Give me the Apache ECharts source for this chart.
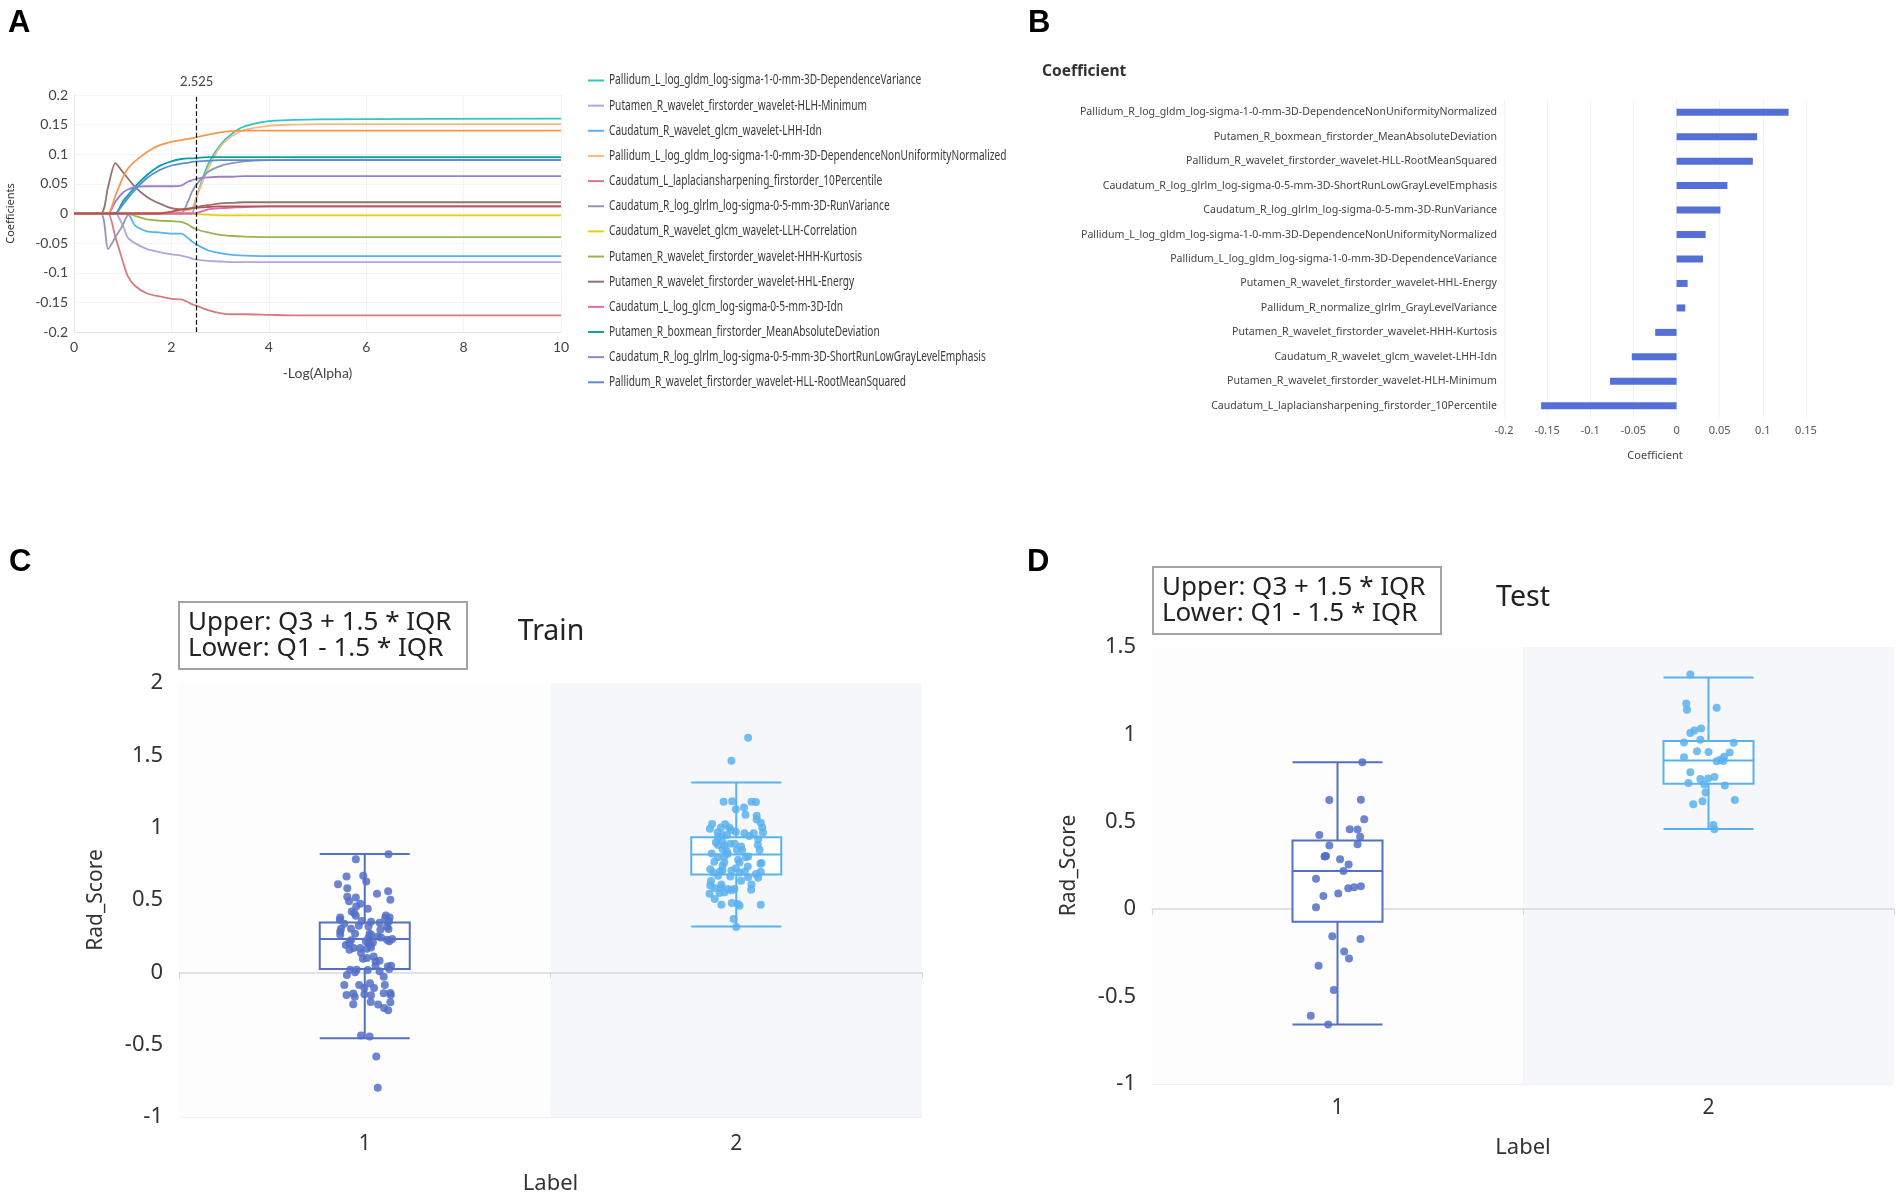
<!DOCTYPE html>
<html><head><meta charset="utf-8">
<style>html,body{margin:0;padding:0;background:#fff}#c{width:1902px;height:1196px}</style>
<script src="https://cdn.jsdelivr.net/npm/echarts@6/dist/echarts.min.js"></script>
</head><body><div id="c"></div>
<script>
// Panel A: coefficient paths
const alphas=[0,0.55,0.7,0.85,1,1.1,1.25,1.5,1.75,2,2.2,2.35,2.42,2.525,2.75,3,3.25,3.5,4,4.5,5,10];
const pathDepVar=[0,0,0,0,0,0,0,0,0,0,0,0,0,.03,.082,.115,.135,.147,.156,.158,.159,.16];
const pathHlhMin=[0,0,0,0,-.02,-.04,-.05,-.06,-.065,-.069,-.071,-.074,-.076,-.078,-.08,-.081,-.082,-.082,-.082,-.082,-.082,-.082];
const pathLhhIdn=[0,0,0,0,0,0,-.02,-.03,-.032,-.034,-.034,-.042,-.047,-.053,-.062,-.067,-.07,-.071,-.072,-.072,-.072,-.072];
const pathDnunL=[0,0,0,0,0,0,0,0,.001,.003,.005,.006,.007,.03,.075,.112,.131,.141,.148,.15,.151,.151];
const pathP10=[0,0,0,-.04,-.08,-.105,-.122,-.135,-.14,-.144,-.145,-.15,-.153,-.156,-.163,-.168,-.17,-.17,-.171,-.172,-.172,-.172];
const pathRunVar=[0,0,-.06,-.04,-.02,-.003,0,0,0,0,0,.022,.036,.05,.07,.08,.085,.088,.09,.091,.091,.091];
const pathCorr=[0,0,0,0,0,0,0,0,0,0,0,0,0,-.001,-.002,-.003,-.003,-.003,-.003,-.003,-.003,-.003];
const pathKurt=[0,0,0,0,0,0,-.004,-.01,-.012,-.013,-.014,-.019,-.023,-.027,-.032,-.036,-.038,-.039,-.04,-.04,-.04,-.04];
const pathEnergy=[0,0,.045,.085,.07,.06,.045,.028,.017,.009,.007,.008,.009,.011,.014,.017,.018,.019,.019,.019,.019,.019];
const pathGlcmIdn=[0,0,0,0,0,0,0,0,0,0,0,0,0,.001,.007,.009,.01,.011,.012,.012,.012,.012];
const pathMad=[0,0,0,0,.02,.03,.045,.065,.08,.088,.092,.093,.093,.094,.095,.095,.095,.095,.095,.095,.095,.095];
const pathShort=[0,0,0,.02,.035,.04,.045,.046,.046,.046,.047,.054,.056,.059,.061,.062,.062,.063,.063,.063,.063,.063];
const pathRms=[0,0,0,0,.015,.025,.04,.06,.073,.081,.084,.086,.087,.088,.089,.09,.09,.09,.09,.09,.09,.09];
const pathDnunR=[0,0,0,.03,.06,.075,.088,.104,.115,.121,.124,.126,.127,.129,.133,.137,.139,.14,.14,.14,.14,.14];
const pathGlv=[0,0,0,0,0,0,0,0,0,.003,.007,.008,.009,.01,.011,.012,.012,.012,.012,.012,.012,.012];
const pathNames=['Pallidum_L_log_gldm_log-sigma-1-0-mm-3D-DependenceVariance','Putamen_R_wavelet_firstorder_wavelet-HLH-Minimum','Caudatum_R_wavelet_glcm_wavelet-LHH-Idn','Pallidum_L_log_gldm_log-sigma-1-0-mm-3D-DependenceNonUniformityNormalized','Caudatum_L_laplaciansharpening_firstorder_10Percentile','Caudatum_R_log_glrlm_log-sigma-0-5-mm-3D-RunVariance','Caudatum_R_wavelet_glcm_wavelet-LLH-Correlation','Putamen_R_wavelet_firstorder_wavelet-HHH-Kurtosis','Putamen_R_wavelet_firstorder_wavelet-HHL-Energy','Caudatum_L_log_glcm_log-sigma-0-5-mm-3D-Idn','Putamen_R_boxmean_firstorder_MeanAbsoluteDeviation','Caudatum_R_log_glrlm_log-sigma-0-5-mm-3D-ShortRunLowGrayLevelEmphasis','Pallidum_R_wavelet_firstorder_wavelet-HLL-RootMeanSquared','Pallidum_R_log_gldm_log-sigma-1-0-mm-3D-DependenceNonUniformityNormalized','Pallidum_R_normalize_glrlm_GrayLevelVariance'];
const pathValues=[pathDepVar,pathHlhMin,pathLhhIdn,pathDnunL,pathP10,pathRunVar,pathCorr,pathKurt,pathEnergy,pathGlcmIdn,pathMad,pathShort,pathRms,pathDnunR,pathGlv];
const pathColors=['#2ec7c9','#b6a2de','#5ab1ef','#ffb980','#d87a80','#8d98b3','#e5cf0d','#97b552','#95706d','#dc69aa','#07a2a4','#9a7fd1','#588dd5','#f5994e','#c05050'];
const legendCount=13, chosenAlpha=2.525;

// Panel B: selected coefficients
const coefNames=['Pallidum_R_log_gldm_log-sigma-1-0-mm-3D-DependenceNonUniformityNormalized','Putamen_R_boxmean_firstorder_MeanAbsoluteDeviation','Pallidum_R_wavelet_firstorder_wavelet-HLL-RootMeanSquared','Caudatum_R_log_glrlm_log-sigma-0-5-mm-3D-ShortRunLowGrayLevelEmphasis','Caudatum_R_log_glrlm_log-sigma-0-5-mm-3D-RunVariance','Pallidum_L_log_gldm_log-sigma-1-0-mm-3D-DependenceNonUniformityNormalized','Pallidum_L_log_gldm_log-sigma-1-0-mm-3D-DependenceVariance','Putamen_R_wavelet_firstorder_wavelet-HHL-Energy','Pallidum_R_normalize_glrlm_GrayLevelVariance','Putamen_R_wavelet_firstorder_wavelet-HHH-Kurtosis','Caudatum_R_wavelet_glcm_wavelet-LHH-Idn','Putamen_R_wavelet_firstorder_wavelet-HLH-Minimum','Caudatum_L_laplaciansharpening_firstorder_10Percentile'];
const coefValues=[.1298,.0934,.0884,.0589,.0508,.0337,.0306,.0128,.0101,-.0248,-.0519,-.0771,-.157];

// Panels C, D: [min, Q1, median, Q3, max]
const labels=['1','2'];
const trainBox=[[-.455,.023,.23,.345,.818],[.3165,.677,.814,.933,1.312]];
const testBox=[[-.66,-.0725,.219,.393,.84],[.459,.718,.851,.962,1.326]];
const trainPts1=[[1.064,.816],[.976,.782],[.951,.662],[.996,.667],[1.004,.628],[.928,.609],[.953,.582],[1.033,.543],[1.063,.561],[1.069,.501],[.953,.522],[.958,.492],[.976,.517],[.988,.474],[.977,.455],[1.008,.439],[.965,.421],[.972,.409],[.976,.391],[.934,.379],[.933,.363],[1.057,.393],[1.067,.379],[1.055,.375],[.945,.336],[.936,.301],[.934,.26],[.934,.283],[.963,.301],[.974,.267],[.984,.322],[.992,.354],[1.01,.317],[1.017,.349],[1.04,.343],[1.065,.352],[1.06,.317],[1.042,.294],[1.064,.299],[1.013,.267],[1.017,.26],[1.01,.237],[1.035,.248],[1.044,.241],[1.06,.225],[1.066,.214],[1.074,.23],[1.003,.214],[1.01,.202],[1.015,.191],[1.022,.207],[.963,.221],[.958,.202],[.949,.189],[.959,.156],[.97,.168],[.988,.168],[.99,.133],[1.006,.163],[1.017,.172],[.995,.094],[1.006,.099],[1.024,.11],[1.029,.076],[1.04,.08],[1.029,.046],[1.062,.041],[1.071,.046],[1.066,.023],[.961,.018],[.978,.018],[.974,0],[.952,-.018],[1.008,.016],[1.04,.007],[1.051,-.03],[.945,-.087],[.985,-.087],[.999,-.108],[1.014,-.076],[1.025,-.108],[1.054,-.087],[.951,-.156],[.969,-.147],[.973,-.168],[.999,-.152],[1.017,-.159],[1.051,-.145],[1.069,-.143],[1.07,-.156],[1.016,-.205],[1.069,-.207],[.969,-.221],[1.036,-.223],[1.052,-.246],[1.063,-.262],[.99,-.437],[1.013,-.444],[1.031,-.582],[1.035,-.798]];
const trainPts2=[[2.032,1.622],[1.987,1.463],[1.966,1.179],[1.989,1.183],[2.041,1.179],[2.053,1.177],[1.999,1.128],[2.021,1.14],[2.025,1.089],[2.055,1.083],[2.055,1.057],[2.066,1.034],[1.935,1.025],[1.929,.993],[1.97,1.023],[2.07,1.002],[2.072,.966],[1.959,1.002],[1.95,.968],[1.981,1.002],[1.986,.984],[1.999,.972],[2.022,.961],[2.047,.961],[2.035,.943],[2.059,.92],[1.951,.933],[1.963,.95],[1.975,.95],[1.945,.897],[1.951,.881],[1.963,.904],[1.969,.874],[1.984,.888],[1.996,.888],[2.013,.869],[2.058,.881],[2.063,.846],[1.963,.851],[1.975,.835],[2.002,.846],[2.016,.842],[1.934,.821],[1.951,.796],[1.977,.819],[2.032,.8],[2.026,.796],[1.968,.8],[2.005,.778],[2.009,.759],[1.941,.764],[1.968,.759],[1.963,.736],[2.031,.732],[2.065,.75],[2.068,.755],[1.93,.713],[1.939,.69],[1.957,.697],[1.951,.667],[1.963,.704],[1.987,.704],[1.999,.72],[2.009,.69],[1.984,.663],[2.023,.695],[2.032,.658],[2.053,.679],[2.059,.654],[2.066,.695],[2.013,.633],[1.932,.631],[1.93,.601],[1.96,.608],[2.041,.608],[2.04,.571],[1.942,.583],[1.959,.583],[1.955,.548],[1.969,.553],[1.978,.576],[1.987,.567],[1.995,.576],[1.928,.544],[1.942,.507],[1.96,.468],[1.988,.479],[2.004,.472],[2.009,.461],[2.066,.468],[1.993,.369],[2,.314]];
const testPts1=[[1.067,.84],[.978,.624],[1.063,.626],[1.072,.515],[1.033,.458],[1.054,.456],[.951,.424],[1.061,.414],[1.054,.372],[.978,.365],[.969,.305],[.967,.303],[.965,.302],[1.007,.286],[1.03,.256],[1.016,.219],[.942,.174],[1.063,.132],[1.045,.126],[1.029,.12],[1.002,.09],[.962,.076],[.942,.011],[.986,-.155],[1.062,-.17],[1.018,-.242],[1.031,-.282],[.949,-.323],[.99,-.462],[.928,-.609],[.975,-.66]];
const testPts2=[[1.951,1.343],[1.94,1.177],[1.942,1.141],[2.022,1.152],[1.98,1.034],[1.962,1.023],[1.951,1.008],[1.934,.954],[1.978,.97],[2.068,.952],[1.969,.903],[2,.899],[2.057,.897],[1.934,.869],[2.042,.872],[2.04,.848],[2.022,.846],[2.032,.855],[1.951,.783],[2.016,.756],[1.999,.747],[1.978,.745],[1.946,.722],[1.989,.714],[2.044,.707],[1.992,.667],[2.071,.625],[1.984,.617],[1.959,.6],[2.013,.482],[2.016,.457]];
const quartileNote='Upper: Q3 + 1.5 * IQR\nLower: Q1 - 1.5 * IQR';

const LATO='Lato,sans-serif', UI='"Noto Sans",sans-serif';
const grid1='#f3f3f5', blue='#5470c6', sky='#5ab1ef';
const noteStyle={fontFamily:UI,fontWeight:'normal',fontSize:26,lineHeight:25.5,color:'#222'};
const legendItems=pathNames.slice(0,legendCount).flatMap((n,i)=>[
  {type:'line',silent:true,shape:{x1:588,y1:80.5+i*25.15,x2:604,y2:80.5+i*25.15},style:{stroke:pathColors[i],lineWidth:2}},
  {type:'text',silent:true,x:609,y:80.5+i*25.15,scaleX:.723,style:{text:n,fontFamily:UI,fontSize:14,fill:'#3a3a3a',verticalAlign:'middle'}}
]);

const option={animation:false,backgroundColor:'#fff',textStyle:{fontFamily:UI},
 graphic:legendItems,
 title:[
  ...[['A',8,8],['B',1028,8],['C',9,547],['D',1027,547]].map(([t,l,y])=>({text:t,left:l,top:y,textStyle:{fontFamily:'"Liberation Sans",sans-serif',fontWeight:'bold',fontSize:31,color:'#000'},padding:0})),
  {text:'Coefficient',left:1042,top:64,padding:0,textStyle:{fontFamily:UI,fontWeight:'bold',fontSize:15.5,color:'#333'}},
  {text:'Train',left:551,top:632,textAlign:'center',textVerticalAlign:'middle',padding:0,textStyle:{fontFamily:UI,fontWeight:'normal',fontSize:28.5,color:'#222'}},
  {text:'Test',left:1529,top:598,textAlign:'center',textVerticalAlign:'middle',padding:0,textStyle:{fontFamily:UI,fontWeight:'normal',fontSize:28.5,color:'#222'}},
  {text:quartileNote,left:179,top:602,padding:[8,16,8,9],borderColor:'#a3a3a3',borderWidth:2,backgroundColor:'#fff',textStyle:noteStyle},
  {text:quartileNote,left:1153,top:567,padding:[8,16,8,9],borderColor:'#a3a3a3',borderWidth:2,backgroundColor:'#fff',textStyle:noteStyle}
 ],
 grid:[
  {left:74,width:487,top:95,height:237},
  {left:1504,width:302,top:100,height:318},
  {left:179,width:743,top:683,height:437.5},
  {left:1152,width:742,top:647,height:437}
 ],
 xAxis:[
  {gridIndex:0,type:'value',min:0,max:10,interval:2,name:'-Log(Alpha)',nameLocation:'middle',nameGap:34,nameTextStyle:{fontFamily:LATO,fontSize:14,color:'#444'},axisLine:{onZero:false,lineStyle:{color:'#e4e6ee'}},axisTick:{show:false},splitLine:{lineStyle:{color:grid1}},axisLabel:{fontFamily:LATO,fontSize:14,color:'#444',margin:8}},
  {gridIndex:1,type:'value',min:-.2,max:.15,interval:.05,name:'Coefficient',nameLocation:'middle',nameGap:32,nameTextStyle:{fontFamily:UI,fontSize:11,color:'#444'},axisLine:{show:false},axisTick:{show:false},splitLine:{lineStyle:{color:grid1}},axisLabel:{fontSize:11,color:'#555',margin:7,formatter:v=>String(+v.toFixed(2))}},
  {gridIndex:2,type:'category',data:labels,name:'Label',nameLocation:'middle',nameGap:56,nameTextStyle:{fontSize:22,color:'#333'},axisLine:{show:false,onZero:false},axisTick:{show:false},axisLabel:{fontSize:21,color:'#333',margin:17},splitArea:{show:true,areaStyle:{color:['#fdfdfe','#f5f7fb']}}},
  {gridIndex:2,type:'category',position:'bottom',data:labels,axisLine:{onZero:true,lineStyle:{color:'#d8d9de',width:1.5}},axisTick:{show:true,length:6,lineStyle:{color:'#d8d9de'}},axisLabel:{show:false}},
  {gridIndex:2,type:'value',min:.5,max:2.5,show:false},
  {gridIndex:3,type:'category',data:labels,name:'Label',nameLocation:'middle',nameGap:53,nameTextStyle:{fontSize:22,color:'#333'},axisLine:{show:false,onZero:false},axisTick:{show:false},axisLabel:{fontSize:21,color:'#333',margin:14},splitArea:{show:true,areaStyle:{color:['#fdfdfe','#f5f7fb']}}},
  {gridIndex:3,type:'category',position:'bottom',data:labels,axisLine:{onZero:true,lineStyle:{color:'#d8d9de',width:1.5}},axisTick:{show:true,length:6,lineStyle:{color:'#d8d9de'}},axisLabel:{show:false}},
  {gridIndex:3,type:'value',min:.5,max:2.5,show:false}
 ],
 yAxis:[
  {gridIndex:0,type:'value',min:-.2,max:.2,interval:.05,name:'Coefficients',nameLocation:'middle',nameGap:58,nameTextStyle:{fontFamily:UI,fontSize:11,color:'#333'},axisLine:{show:true,onZero:false,lineStyle:{color:'#e4e6ee'}},axisTick:{show:false},splitLine:{lineStyle:{color:grid1}},axisLabel:{fontFamily:LATO,fontSize:14,color:'#444',margin:6,formatter:v=>String(+v.toFixed(2))}},
  {gridIndex:1,type:'category',inverse:true,data:coefNames,axisLine:{show:true,lineStyle:{color:grid1}},axisTick:{show:false},splitLine:{show:false},axisLabel:{fontSize:10.6,color:'#444',margin:7,interval:0}},
  {gridIndex:2,type:'value',min:-1,max:2,interval:.5,name:'Rad_Score',nameLocation:'middle',nameGap:72,nameTextStyle:{fontSize:21,color:'#333'},axisLine:{show:false},axisTick:{show:false},splitLine:{lineStyle:{color:'#eff0f3'}},axisLabel:{fontSize:22,color:'#333',margin:16}},
  {gridIndex:3,type:'value',min:-1,max:1.5,interval:.5,name:'Rad_Score',nameLocation:'middle',nameGap:72,nameTextStyle:{fontSize:21,color:'#333'},axisLine:{show:false},axisTick:{show:false},splitLine:{lineStyle:{color:'#eff0f3'}},axisLabel:{fontSize:22,color:'#333',margin:16}}
 ],
 series:[
  ...pathNames.map((n,i)=>({name:n,type:'line',xAxisIndex:0,yAxisIndex:0,symbol:'none',smooth:.25,z:2+i,
    lineStyle:{width:1.8,color:pathColors[i]},itemStyle:{color:pathColors[i]},data:alphas.map((a,k)=>[a,pathValues[i][k]]),
    ...(i===0?{markLine:{silent:true,symbol:'none',z:30,lineStyle:{type:'dashed',color:'#111',width:1.2},label:{formatter:String(chosenAlpha),position:'end',fontFamily:LATO,fontSize:13,color:'#444',distance:7},data:[{xAxis:chosenAlpha}]}}:{})})),
  {type:'bar',xAxisIndex:1,yAxisIndex:1,barWidth:7,data:coefValues,itemStyle:{color:'#5470d6'}},
  ...[[2,2,4,trainBox,trainPts1,trainPts2],[5,3,7,testBox,testPts1,testPts2]].flatMap(([xi,yi,xj,box,p1,p2])=>[
    {type:'boxplot',xAxisIndex:xi,yAxisIndex:yi,boxWidth:[90,90],z:3,data:box.map((b,k)=>({value:b,itemStyle:{color:'#fff',borderColor:k?sky:blue,borderWidth:2}}))},
    {type:'scatter',xAxisIndex:xj,yAxisIndex:yi,symbolSize:8,z:4,itemStyle:{color:blue,opacity:.85},data:p1},
    {type:'scatter',xAxisIndex:xj,yAxisIndex:yi,symbolSize:8,z:4,itemStyle:{color:sky,opacity:.85},data:p2}
  ])
 ]};
option.title.find(t=>t.text==='Test').left=1523;
echarts.init(document.getElementById('c'),null,{renderer:'canvas'}).setOption(option);
</script></body></html>
